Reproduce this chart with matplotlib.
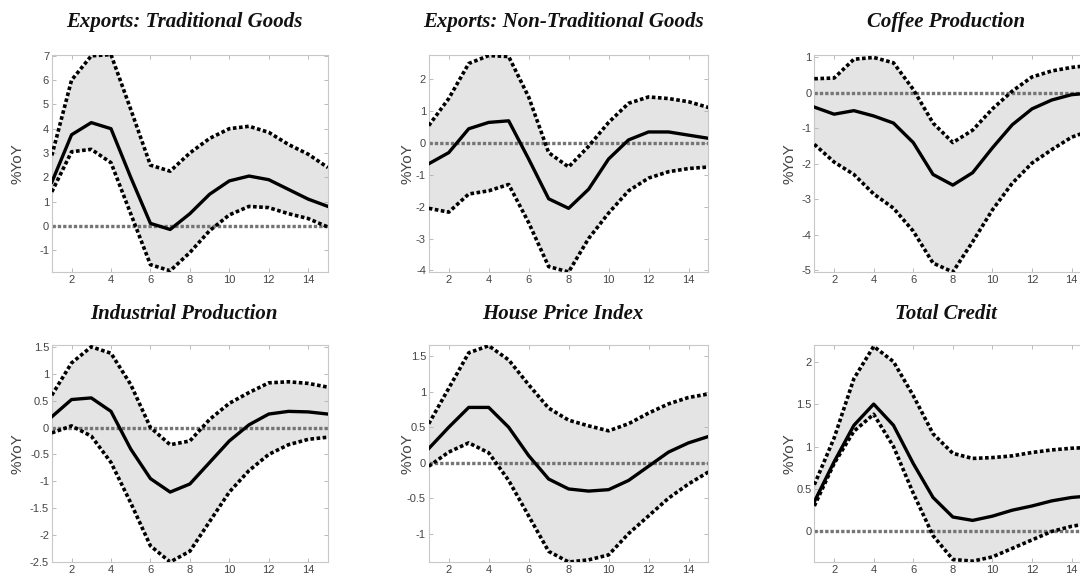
import numpy as np
import matplotlib
matplotlib.use('Agg')
import matplotlib.pyplot as plt
from matplotlib.ticker import FormatStrFormatter

# horizon (quarters)
horizon = list(range(1, 16))

titles = ['Exports: Traditional Goods', 'Exports: Non-Traditional Goods', 'Coffee Production',
          'Industrial Production', 'House Price Index', 'Total Credit']

# median responses
med_trad = [1.8, 3.75, 4.25, 4.0, 2.0, 0.1, -0.15, 0.5, 1.3, 1.85, 2.05, 1.9, 1.5, 1.1, 0.8]
med_nontrad = [-0.65, -0.3, 0.45, 0.65, 0.7, -0.5, -1.75, -2.05, -1.45, -0.5, 0.1, 0.35, 0.35, 0.25, 0.15]
med_coffee = [-0.4, -0.6, -0.5, -0.65, -0.85, -1.4, -2.3, -2.6, -2.25, -1.55, -0.9, -0.45, -0.2, -0.05, 0.0]
med_ip = [0.2, 0.52, 0.55, 0.3, -0.4, -0.95, -1.2, -1.05, -0.65, -0.25, 0.05, 0.25, 0.3, 0.29, 0.25]
med_house = [0.2, 0.5, 0.78, 0.78, 0.5, 0.1, -0.23, -0.37, -0.4, -0.38, -0.25, -0.05, 0.15, 0.28, 0.37]
med_credit = [0.35, 0.82, 1.25, 1.5, 1.25, 0.8, 0.4, 0.17, 0.13, 0.18, 0.25, 0.3, 0.36, 0.4, 0.42]

# upper bands
up_trad = [2.9, 6.0, 7.0, 7.05, 4.8, 2.5, 2.25, 3.0, 3.6, 4.0, 4.1, 3.85, 3.35, 2.95, 2.4]
up_nontrad = [0.55, 1.4, 2.5, 2.75, 2.72, 1.45, -0.3, -0.75, -0.1, 0.65, 1.25, 1.45, 1.4, 1.3, 1.12]
up_coffee = [0.4, 0.42, 0.95, 1.0, 0.85, 0.1, -0.85, -1.4, -1.05, -0.45, 0.05, 0.45, 0.62, 0.72, 0.78]
up_ip = [0.6, 1.2, 1.5, 1.38, 0.8, 0.0, -0.32, -0.25, 0.15, 0.45, 0.65, 0.83, 0.85, 0.82, 0.75]
up_house = [0.55, 1.05, 1.55, 1.65, 1.45, 1.1, 0.77, 0.6, 0.52, 0.45, 0.55, 0.7, 0.83, 0.92, 0.97]
up_credit = [0.55, 1.1, 1.8, 2.18, 2.0, 1.6, 1.15, 0.92, 0.86, 0.87, 0.89, 0.93, 0.96, 0.98, 0.99]

# lower bands
lo_trad = [1.4, 3.05, 3.15, 2.6, 0.5, -1.6, -1.85, -1.1, -0.2, 0.45, 0.8, 0.75, 0.5, 0.3, -0.05]
lo_nontrad = [-2.05, -2.17, -1.6, -1.5, -1.3, -2.5, -3.88, -4.05, -3.0, -2.2, -1.5, -1.1, -0.9, -0.8, -0.75]
lo_coffee = [-1.45, -1.95, -2.3, -2.85, -3.25, -3.9, -4.8, -5.05, -4.2, -3.3, -2.55, -1.98, -1.6, -1.25, -1.05]
lo_ip = [-0.1, 0.03, -0.16, -0.65, -1.4, -2.2, -2.5, -2.3, -1.75, -1.2, -0.8, -0.5, -0.32, -0.22, -0.18]
lo_house = [-0.05, 0.15, 0.28, 0.14, -0.25, -0.75, -1.25, -1.4, -1.37, -1.3, -1.0, -0.75, -0.5, -0.3, -0.13]
lo_credit = [0.3, 0.8, 1.18, 1.38, 1.0, 0.45, -0.05, -0.33, -0.35, -0.3, -0.2, -0.1, 0.0, 0.06, 0.1]

medians = [med_trad, med_nontrad, med_coffee, med_ip, med_house, med_credit]
uppers = [up_trad, up_nontrad, up_coffee, up_ip, up_house, up_credit]
lowers = [lo_trad, lo_nontrad, lo_coffee, lo_ip, lo_house, lo_credit]

ylims = [(-1.9, 7.05), (-4.05, 2.78), (-5.05, 1.08), (-2.5, 1.54), (-1.40, 1.665), (-0.36, 2.2)]
yticks = [np.arange(-1, 8, 1), np.arange(-4, 3, 1), np.arange(-5, 2, 1),
          np.arange(-2.5, 1.6, 0.5), np.arange(-1, 1.6, 0.5), np.arange(0, 2.1, 0.5)]

fig = plt.figure(figsize=(10.8, 5.75), dpi=100)

lefts = [0.048, 0.397, 0.754]
widths = [0.2556, 0.259, 0.2565]
bottoms = [0.527, 0.0226]
height = 0.378
title_x = [184 / 1080, 563 / 1080, 946 / 1080]
title_y = [1 - 22 / 575, 1 - 314 / 575]
ylab_x = [18 / 1080, 408 / 1080, 790 / 1080]

for i in range(6):
    r, c = divmod(i, 3)
    ax = fig.add_axes([lefts[c], bottoms[r], widths[c], height])
    x = horizon
    ax.fill_between(x, lowers[i], uppers[i], color='#e4e4e4', lw=0, zorder=1)
    ax.axhline(0, color='#757575', lw=2.4, ls=(0, (1, 0.6)), zorder=2)
    ax.plot(x, uppers[i], color='black', lw=2.6, ls=(0, (1, 0.7)), zorder=3)
    ax.plot(x, lowers[i], color='black', lw=2.6, ls=(0, (1, 0.7)), zorder=3)
    ax.plot(x, medians[i], color='black', lw=2.4, zorder=4)
    ax.set_xlim(1, 15)
    ax.set_ylim(*ylims[i])
    ax.set_xticks(range(2, 15, 2))
    ax.set_yticks(yticks[i])
    ax.yaxis.set_major_formatter(FormatStrFormatter('%g'))
    ax.tick_params(direction='in', top=True, right=True, length=3, width=0.6,
                   color='#b0b0b0', labelcolor='#444444', labelsize=8, pad=2)
    for s in ax.spines.values():
        s.set_color('#c8c8c8')
        s.set_linewidth(0.8)
    for lab in ax.get_xticklabels() + ax.get_yticklabels():
        lab.set_family('Liberation Sans')
    fig.text(ylab_x[c], bottoms[r] + height / 2, '%YoY', rotation=90, ha='center', va='center',
             fontsize=11, color='#444444', family='Liberation Sans')
    fig.text(title_x[c], title_y[r], titles[i], ha='center', va='center', fontsize=15,
             family='Liberation Serif', fontweight='bold', fontstyle='italic', color='#111111')

fig.savefig('out.png', dpi=100)
